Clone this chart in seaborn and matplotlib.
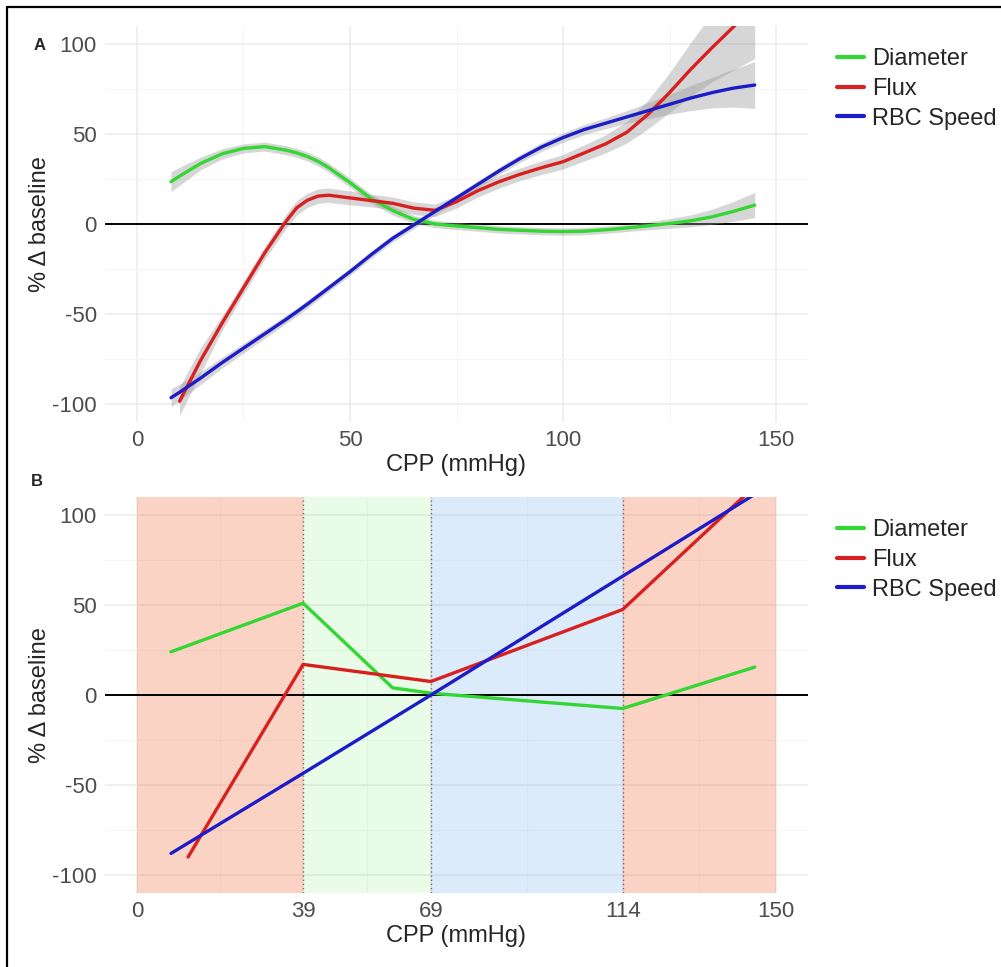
import numpy as np
import pandas as pd
import seaborn as sns
import matplotlib.pyplot as plt
from matplotlib.lines import Line2D

# ---- panel A: smoothed fits ----
cpp_a = [8, 10, 15, 20, 25, 30, 35, 37.5, 40, 42.5, 45, 50, 55, 60, 65, 70, 75, 80,
         85, 90, 95, 100, 105, 110, 115, 120, 125, 130, 135, 140, 145]
diam_a = [23.5, 26.6, 33.7, 39, 42, 43, 41, 39.5, 37.5, 34.8, 31.3, 23, 14, 7.5, 2.5, 0,
          -1.1, -2, -3, -3.5, -4, -4.2, -4, -3.2, -2.2, -1, 0.3, 1.8, 4, 7, 10.5]
flux_a = [np.nan, -98.5, -75.5, -55, -35.5, -16, 1.5, 9, 13.2, 15.5, 16, 14.5, 13,
          11.5, 8.8, 7.6, 12.4, 18.5, 23.5, 27.7, 31.3, 34.6, 39.5, 44.5, 51,
          61, 73, 86, 98, 109.5, 121]
speed_a = [-96.5, -93.5, -85.5, -77, -69, -61, -53, -48.8, -44.5, -40, -35.5, -26.5, -17,
           -8, -0.5, 7, 14.5, 22, 29.5, 36.5, 42.8, 48, 52.5, 56, 59.5, 63,
           66.5, 70, 73, 75.5, 77.2]
diam_se = [5.5, 5, 3.5, 2.8, 2.5, 2.5, 2.5, 2.5, 2.5, 2.5, 2.5, 2.5, 2.5, 2.5, 2.2, 2,
           2, 2, 2, 2, 2, 2, 2, 2, 2, 2.2, 2.7, 3.3, 4.2, 5.5, 7]
flux_se = [np.nan, 8, 7, 4, 3.5, 3.5, 4, 4, 4, 4, 4, 3.8, 3.5, 3.5, 3.5, 3.5, 3.5,
           3.5, 3.5, 3.5, 3.8, 4, 4.5, 5, 6, 8, 11, 15, 19, 24, 29]
speed_se = [5, 4.5, 3.5, 3, 2.7, 2.5, 2.3, 2.2, 2.2, 2.1, 2, 2, 2, 2, 2, 2, 2, 2, 2,
            2.2, 2.4, 2.6, 2.8, 3, 3.5, 4.5, 5.5, 7, 8.5, 10.5, 13]

# ---- panel B: segmented fits ----
cpp_b_diam = [8, 39, 60, 69, 114, 145]
diam_b = [24, 51, 4, 1, -7.5, 15.5]
cpp_b_flux = [12, 39, 69, 114, 145]
flux_b = [-90, 17, 7.5, 47.5, 116]
cpp_b_speed = [8, 39, 69, 114, 145]
speed_b = [-88, -43.5, 0, 66, 111.5]

breaks_b = [0, 39, 69, 114, 150]
zones = [(0, 39, '#F07040', 0.30), (39, 69, '#80F080', 0.18),
         (69, 114, '#80B8F0', 0.28), (114, 150, '#F07040', 0.30)]

series = ['Diameter', 'Flux', 'RBC Speed']
colors = {'Diameter': '#33D633', 'Flux': '#D82020', 'RBC Speed': '#1C1CC8'}

sns.set_theme(style='white')
plt.rcParams['font.family'] = ['Liberation Sans', 'DejaVu Sans']
plt.rcParams['axes.unicode_minus'] = False

df_a = pd.concat([
    pd.DataFrame({'cpp': cpp_a, 'pct': diam_a, 'se': diam_se, 'series': 'Diameter'}),
    pd.DataFrame({'cpp': cpp_a, 'pct': flux_a, 'se': flux_se, 'series': 'Flux'}),
    pd.DataFrame({'cpp': cpp_a, 'pct': speed_a, 'se': speed_se, 'series': 'RBC Speed'}),
]).dropna()
df_b = pd.concat([
    pd.DataFrame({'cpp': cpp_b_diam, 'pct': diam_b, 'series': 'Diameter'}),
    pd.DataFrame({'cpp': cpp_b_flux, 'pct': flux_b, 'series': 'Flux'}),
    pd.DataFrame({'cpp': cpp_b_speed, 'pct': speed_b, 'series': 'RBC Speed'}),
])

W, H = 1001, 967
fig = plt.figure(figsize=(W / 100, H / 100), dpi=100)
ax_a = fig.add_axes([105 / W, 1 - 422 / H, 703 / W, 396 / H])
ax_b = fig.add_axes([105 / W, 1 - 893 / H, 703 / W, 396 / H])


def style_axis(ax, xticks, xminor):
    ax.set_xlim(-7.5, 157.5)
    ax.set_ylim(-110, 110)
    ax.set_xticks(xticks)
    ax.set_xticks(xminor, minor=True)
    ax.set_yticks([-100, -50, 0, 50, 100])
    ax.set_yticks([-75, -25, 25, 75], minor=True)
    ax.grid(which='major', color='#EBEBEB', lw=1.1)
    ax.grid(which='minor', color='#F5F5F5', lw=0.8)
    ax.set_axisbelow(True)
    for s in ax.spines.values():
        s.set_visible(False)
    ax.tick_params(which='both', length=0, labelsize=16, labelcolor='#4D4D4D', pad=6)
    ax.axhline(0, color='black', lw=1.4, zorder=1.5)
    handles = [Line2D([0], [0], color=colors[s], lw=3) for s in series]
    bbox = ax.get_position()
    ax.legend(handles, series, loc='upper left', frameon=False, fontsize=17,
              bbox_to_anchor=(837 / W, bbox.y1 - 22 / H), bbox_transform=fig.transFigure,
              borderpad=0, borderaxespad=0, handlelength=1.15, handletextpad=0.35,
              labelspacing=0.33)


def set_labels(ax):
    ax.set_xlabel('CPP (mmHg)', fontsize=17, labelpad=2)
    ax.set_ylabel('% Δ baseline', fontsize=17, labelpad=1)


# panel A
style_axis(ax_a, [0, 50, 100, 150], [25, 75, 125])
for s in series:
    d = df_a[df_a.series == s]
    ax_a.fill_between(d.cpp, d.pct - d.se, d.pct + d.se, color='#999999',
                      alpha=0.4, lw=0, zorder=2)
sns.lineplot(data=df_a, x='cpp', y='pct', hue='series', hue_order=series,
             palette=colors, estimator=None, lw=2.4, legend=False, ax=ax_a, zorder=3)
set_labels(ax_a)

# panel B
style_axis(ax_b, breaks_b, [19.5, 54, 91.5, 132])
for x0, x1, c, a in zones:
    ax_b.axvspan(x0, x1, color=c, alpha=a, lw=0, zorder=1)
for b in breaks_b[1:4]:
    ax_b.axvline(b, color='#9A6060', lw=1, ls=(0, (1, 2)), zorder=1.2)
sns.lineplot(data=df_b, x='cpp', y='pct', hue='series', hue_order=series,
             palette=colors, estimator=None, lw=2.4, legend=False, ax=ax_b, zorder=3)
set_labels(ax_b)

fig.text(40 / W, 1 - 45 / H, 'A', fontsize=12, fontweight='bold', ha='center', va='center')
fig.text(37 / W, 1 - 482 / H, 'B', fontsize=12, fontweight='bold', ha='center', va='center')

# outer frame (left and top edges visible)
fig.add_artist(Line2D([7 / W, 7 / W], [0, 1 - 7 / H], color='black', lw=1.6))
fig.add_artist(Line2D([7 / W, 1], [1 - 7 / H, 1 - 7 / H], color='black', lw=1.6))

fig.savefig('out.png', dpi=100, facecolor='white')
